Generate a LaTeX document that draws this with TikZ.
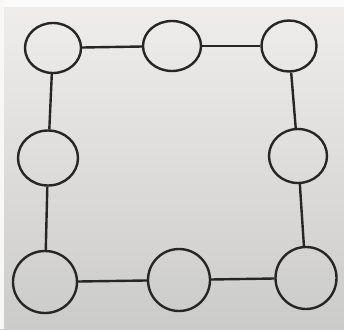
\documentclass[tikz,border=0pt]{standalone}
\usetikzlibrary{shapes.geometric}
\begin{document}
\begin{tikzpicture}[x=1pt,y=-1pt,
  ring/.style={draw=black!85, line width=2.4pt, ellipse, inner sep=0pt},
  link/.style={draw=black!85, line width=2.4pt}]
\useasboundingbox (0,0) rectangle (344,329);
\shade[top color={rgb,255:red,240;green,238;blue,236}, bottom color={rgb,255:red,203;green,203;blue,201}] (0,0) rectangle (344,329);
\fill[white!96!gray] (0,0) rectangle (344,7);
\fill[white!94!gray] (0,0) rectangle (4,329);
\node[ring, minimum width=56pt, minimum height=50pt] (tl) at (53,48) {};
\node[ring, minimum width=58pt, minimum height=50pt] (tm) at (172,46) {};
\node[ring, minimum width=55pt, minimum height=51pt] (tr) at (289,46) {};
\node[ring, minimum width=60pt, minimum height=55pt] (ml) at (48,158) {};
\node[ring, minimum width=58pt, minimum height=54pt] (mr) at (298,156) {};
\node[ring, minimum width=64pt, minimum height=62pt] (bl) at (45,282) {};
\node[ring, minimum width=62pt, minimum height=62pt] (bm) at (179,280) {};
\node[ring, minimum width=61pt, minimum height=62pt] (br) at (306,278) {};
\draw[link] (tl) -- (tm);
\draw[link] (tm) -- (tr);
\draw[link] (tl) -- (ml);
\draw[link] (ml) -- (bl);
\draw[link] (tr) -- (mr);
\draw[link] (mr) -- (br);
\draw[link] (bl) -- (bm);
\draw[link] (bm) -- (br);
\end{tikzpicture}
\end{document}
